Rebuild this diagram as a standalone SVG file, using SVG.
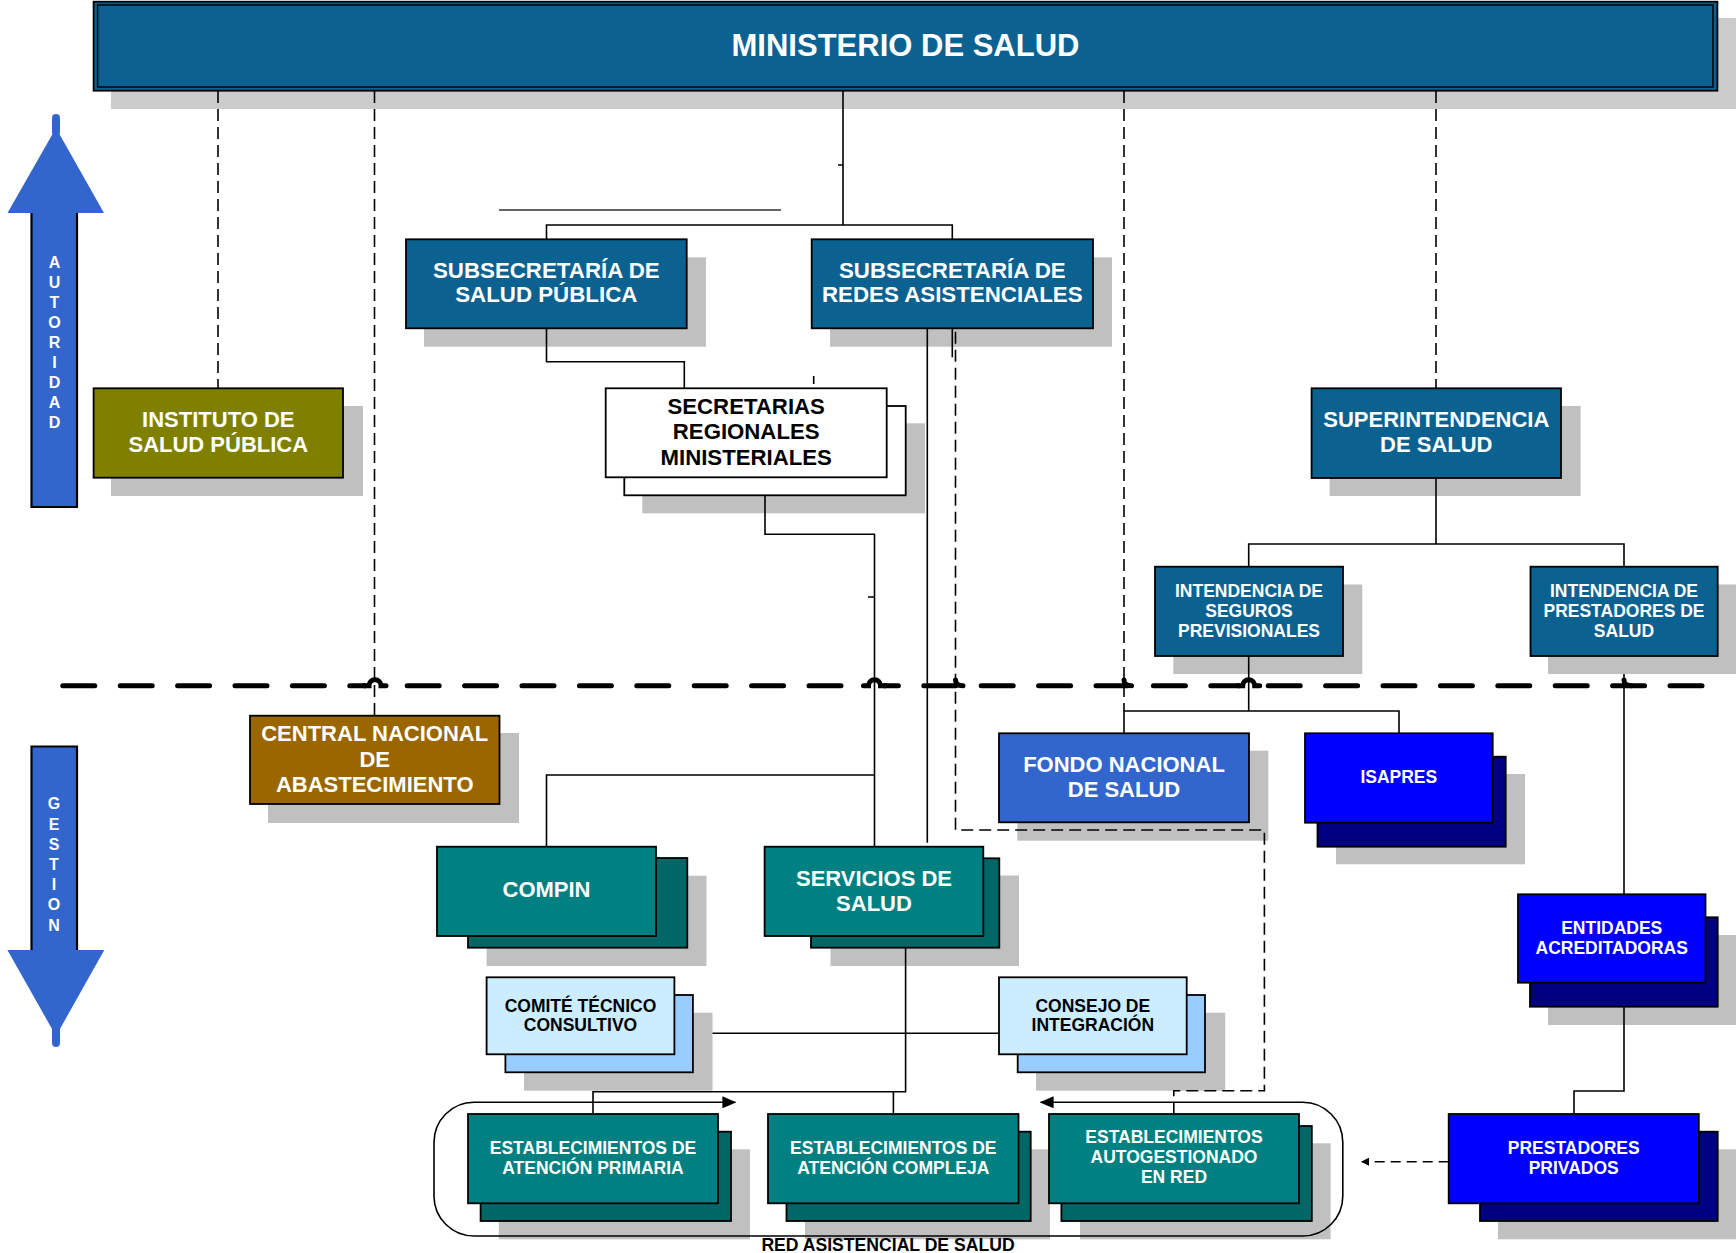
<svg xmlns="http://www.w3.org/2000/svg" width="1736" height="1253" viewBox="0 0 1736 1253">
<style>
text{font-family:"Liberation Sans",Arial,sans-serif;font-weight:bold;text-anchor:middle}
.w{fill:#FFFFFF}
.k{fill:#000000}
.t22{font-size:22px}
.t17{font-size:17.5px}
.bx{stroke:#000;stroke-width:1.8}
.sh{fill:#C0C0C0}
.steel{fill:#0B6291}
.teal{fill:#008080}
.dteal{fill:#006666}
.blue{fill:#0000FF}
.navy{fill:#000080}
.lb{fill:#CCECFF}
.lb2{fill:#99CCFF}
.ln{fill:none;stroke:#000;stroke-width:1.6}
.dl{fill:none;stroke:#000;stroke-width:1.6;stroke-dasharray:12 6}
.big{fill:none;stroke:#000;stroke-width:5;stroke-linecap:round}
.wo{fill:none;stroke:#FFF;stroke-width:8}
</style>
<defs>
<marker id="ah" viewBox="0 0 14 12" refX="13" refY="6" markerWidth="14" markerHeight="12" markerUnits="userSpaceOnUse" orient="auto-start-reverse">
<path d="M0,0 L14,6 L0,12 Z" fill="#000"/>
</marker>
<marker id="ahs" viewBox="0 0 8 8" refX="7" refY="4" markerWidth="8" markerHeight="8" markerUnits="userSpaceOnUse" orient="auto">
<path d="M0,0 L8,4 L0,8 Z" fill="#000"/>
</marker>
</defs>
<rect width="1736" height="1253" fill="#FFFFFF"/>

<g id="arrow-autoridad">
<path d="M56,118 L56,132" stroke="#3366CC" stroke-width="8" stroke-linecap="round"/>
<polygon points="56,128 104,213 7.5,213" fill="#3366CC"/>
<path d="M31.5,213 L31.5,507 L77,507 L77,213" fill="#3366CC" stroke="#000" stroke-width="2.2"/>
<g class="w" style="font-size:16px">
<text x="54.5" y="268.3">A</text><text x="54.5" y="288.3">U</text><text x="54.5" y="308.3">T</text><text x="54.5" y="328.3">O</text><text x="54.5" y="348.3">R</text><text x="54.5" y="368.3">I</text><text x="54.5" y="388.3">D</text><text x="54.5" y="408.3">A</text><text x="54.5" y="428.3">D</text>
</g>
</g>

<g id="arrow-gestion">
<path d="M31.5,950 L31.5,746.5 L77,746.5 L77,950" fill="#3366CC" stroke="#000" stroke-width="2.2"/>
<polygon points="7.4,950 104.3,950 56,1036" fill="#3366CC"/>
<path d="M56,1030 L56,1043" stroke="#3366CC" stroke-width="8" stroke-linecap="round"/>
<g class="w" style="font-size:16px">
<text x="54" y="809.3">G</text><text x="54" y="829.5">E</text><text x="54" y="849.7">S</text><text x="54" y="869.9">T</text><text x="54" y="890.1">I</text><text x="54" y="910.3">O</text><text x="54" y="930.5">N</text>
</g>
</g>

<g id="divider">
<path class="big" d="M62.8,685.7 H1715" stroke-dasharray="32 25.4"/>
<path class="wo" d="M366,685.7 H384 M865.5,685.7 H883.5 M1239.7,685.7 H1257.7"/>
<path class="big" d="M364,685.7 H369 A6,6 0 0 1 381,685.7 H386"/>
<path class="big" d="M863.5,685.7 H868.5 A6,6 0 0 1 880.5,685.7 H885.5"/>
<path class="big" d="M1237.7,685.7 H1242.7 A6,6 0 0 1 1254.7,685.7 H1259.7"/>
<path class="big" d="M955.5,680 Q955.5,685.7 963,685.7"/>
<path class="big" d="M1124,680 Q1124,685.7 1131.5,685.7"/>
<path class="big" d="M1624,680 Q1624,685.7 1631.5,685.7"/>
</g>

<g id="nodes">
<g id="n-ministerio">
<rect class="sh" x="111" y="18" width="1625" height="91" style="fill:#CCCCCC"/>
<rect class="steel bx" x="93.6" y="1.7" width="1623.8" height="89"/>
<rect x="97.6" y="5" width="1615.4" height="82" fill="none" stroke="#000" stroke-width="1.5"/>
<text class="w" style="font-size:31px" x="905.5" y="55.5">MINISTERIO DE SALUD</text>
</g>
<g id="n-subsec-sp">
<rect class="sh" x="424" y="257.3" width="282" height="89.4"/>
<rect class="steel bx" x="406" y="239.3" width="280.7" height="89"/>
<text class="w t22" x="546.3" style="font-size:22.3px"><tspan x="546.3" y="277.7">SUBSECRETARÍA DE</tspan><tspan x="546.3" y="302.3">SALUD PÚBLICA</tspan></text>
</g>
<g id="n-subsec-redes">
<rect class="sh" x="830" y="257.3" width="282" height="89.4"/>
<rect class="steel bx" x="811.7" y="239.3" width="281.3" height="89"/>
<text class="w t22" x="952.3" style="font-size:22.3px"><tspan x="952.3" y="277.7">SUBSECRETARÍA DE</tspan><tspan x="952.3" y="302.3">REDES ASISTENCIALES</tspan></text>
</g>
<g id="n-instituto">
<rect class="sh" x="111" y="406" width="252" height="90"/>
<rect class="bx" x="93.6" y="388.3" width="249.4" height="89.4" fill="#808000"/>
<text class="w t22"><tspan x="218.3" y="426.7">INSTITUTO DE</tspan><tspan x="218.3" y="451.7">SALUD PÚBLICA</tspan></text>
</g>
<g id="n-seremi">
<rect class="sh" x="642.3" y="423.3" width="282.7" height="90"/>
<rect class="bx" x="624.3" y="406" width="281.4" height="89.3" fill="#FFFFFF"/>
<rect class="bx" x="605.7" y="388.3" width="281" height="89" fill="#FFFFFF"/>
<text class="k" style="font-size:22.2px"><tspan x="746.2" y="413.5">SECRETARIAS</tspan><tspan x="746.2" y="439">REGIONALES</tspan><tspan x="746.2" y="464.5">MINISTERIALES</tspan></text>
</g>
<g id="n-super">
<rect class="sh" x="1329.6" y="406" width="251" height="90"/>
<rect class="steel bx" x="1311.6" y="388.3" width="249.4" height="89.7"/>
<text class="w t22"><tspan x="1436.3" y="426.7">SUPERINTENDENCIA</tspan><tspan x="1436.3" y="451.7">DE SALUD</tspan></text>
</g>
<g id="n-int-seg">
<rect class="sh" x="1173.3" y="584.5" width="189" height="89.5"/>
<rect class="steel bx" x="1155" y="566.7" width="188" height="89.3"/>
<text class="w t17"><tspan x="1249" y="596.7">INTENDENCIA DE</tspan><tspan x="1249" y="617">SEGUROS</tspan><tspan x="1249" y="637.3">PREVISIONALES</tspan></text>
</g>
<g id="n-int-prest">
<rect class="sh" x="1548" y="584.5" width="188" height="89.5"/>
<rect class="steel bx" x="1530.5" y="566.7" width="187.2" height="89.3"/>
<text class="w t17"><tspan x="1624" y="596.7">INTENDENCIA DE</tspan><tspan x="1624" y="617">PRESTADORES DE</tspan><tspan x="1624" y="637.3">SALUD</tspan></text>
</g>
<g id="n-central">
<rect class="sh" x="268" y="733" width="251" height="90"/>
<rect class="bx" x="250" y="715.7" width="249.5" height="88.3" fill="#996600"/>
<text class="w t22"><tspan x="374.7" y="741">CENTRAL NACIONAL</tspan><tspan x="374.7" y="766.7">DE</tspan><tspan x="374.7" y="792.3">ABASTECIMIENTO</tspan></text>
</g>
<g id="n-fonasa">
<rect class="sh" x="1017.3" y="750.7" width="251" height="90"/>
<rect class="bx" x="999" y="733.3" width="250" height="89" fill="#3366CC"/>
<text class="w t22"><tspan x="1124" y="772.3">FONDO NACIONAL</tspan><tspan x="1124" y="796.7">DE SALUD</tspan></text>
</g>
<g id="n-isapres">
<rect class="sh" x="1336" y="774" width="189" height="90.3"/>
<rect class="navy bx" x="1317.5" y="756.7" width="188.2" height="90"/>
<rect class="blue bx" x="1305" y="733.3" width="187.7" height="89.4"/>
<text class="w t17" x="1398.8" y="783.3">ISAPRES</text>
</g>
<g id="n-compin">
<rect class="sh" x="486.6" y="875.7" width="219.9" height="90.3"/>
<rect class="dteal bx" x="468" y="858" width="219.3" height="89.7"/>
<rect class="teal bx" x="437" y="846.7" width="219" height="89.3"/>
<text class="w t22" x="546.5" y="897.3">COMPIN</text>
</g>
<g id="n-servicios">
<rect class="sh" x="830.5" y="875.5" width="188.5" height="90.5"/>
<rect class="dteal bx" x="811" y="858.3" width="188.3" height="89.4"/>
<rect class="teal bx" x="764.6" y="846.7" width="218.7" height="89.3"/>
<text class="w t22"><tspan x="874" y="885.7">SERVICIOS DE</tspan><tspan x="874" y="910.7">SALUD</tspan></text>
</g>
<g id="n-entidades">
<rect class="sh" x="1548" y="935" width="188" height="90"/>
<rect class="navy bx" x="1530" y="917.3" width="187.7" height="89.4"/>
<rect class="blue bx" x="1518" y="894.3" width="187.5" height="88.4"/>
<text class="w t17"><tspan x="1611.7" y="934">ENTIDADES</tspan><tspan x="1611.7" y="954.3">ACREDITADORAS</tspan></text>
</g>
<g id="n-comite">
<rect class="sh" x="524" y="1012.7" width="188.5" height="78"/>
<rect class="lb2 bx" x="505.4" y="995" width="187.5" height="77.3"/>
<rect class="lb bx" x="486.6" y="977.3" width="187.8" height="77"/>
<text class="k t17"><tspan x="580.5" y="1011.7">COMITÉ TÉCNICO</tspan><tspan x="580.5" y="1031">CONSULTIVO</tspan></text>
</g>
<g id="n-consejo">
<rect class="sh" x="1036" y="1012.7" width="189.2" height="78"/>
<rect class="lb2 bx" x="1017.7" y="995" width="187.3" height="77.3"/>
<rect class="lb bx" x="999" y="977.3" width="187.7" height="77"/>
<text class="k t17"><tspan x="1092.8" y="1011.7">CONSEJO DE</tspan><tspan x="1092.8" y="1031">INTEGRACIÓN</tspan></text>
</g>
<g id="n-est-primaria">
<rect class="sh" x="498.8" y="1149.3" width="251.2" height="90"/>
<rect class="dteal bx" x="480.6" y="1131.7" width="250.4" height="89.3"/>
<rect class="teal bx" x="468" y="1114" width="250" height="89.3"/>
<text class="w t17"><tspan x="593" y="1154">ESTABLECIMIENTOS DE</tspan><tspan x="593" y="1174">ATENCIÓN PRIMARIA</tspan></text>
</g>
<g id="n-est-compleja">
<rect class="sh" x="805" y="1149.3" width="245" height="90"/>
<rect class="dteal bx" x="786.5" y="1131.7" width="244.2" height="89.3"/>
<rect class="teal bx" x="768" y="1114" width="250.5" height="89.3"/>
<text class="w t17"><tspan x="893.3" y="1154">ESTABLECIMIENTOS DE</tspan><tspan x="893.3" y="1174">ATENCIÓN COMPLEJA</tspan></text>
</g>
<g id="n-est-autogest">
<rect class="sh" x="1080" y="1143.3" width="250.6" height="96"/>
<rect class="dteal bx" x="1061.4" y="1126" width="250.4" height="95"/>
<rect class="teal bx" x="1049" y="1114" width="250" height="89.3"/>
<text class="w t17"><tspan x="1174" y="1143.3">ESTABLECIMIENTOS</tspan><tspan x="1174" y="1163.3">AUTOGESTIONADO</tspan><tspan x="1174" y="1183.3">EN RED</tspan></text>
</g>
<g id="n-prestadores">
<rect class="sh" x="1498" y="1149.3" width="238" height="90"/>
<rect class="navy bx" x="1480" y="1131.7" width="237.7" height="89.3"/>
<rect class="blue bx" x="1448.7" y="1114" width="250.1" height="89.3"/>
<text class="w t17"><tspan x="1573.7" y="1154">PRESTADORES</tspan><tspan x="1573.7" y="1174">PRIVADOS</tspan></text>
</g>
<g id="n-red">
<path class="ln" d="M735.4,1102.3 H474 A40,40 0 0 0 434,1142.3 V1196 A40,40 0 0 0 474,1236 H1302.8 A40,40 0 0 0 1342.8,1196 V1142.3 A40,40 0 0 0 1302.8,1102.3 H1040.6" marker-start="url(#ah)" marker-end="url(#ah)"/>
<text class="k" style="font-size:17.6px" x="888" y="1251">RED ASISTENCIAL DE SALUD</text>
</g>
</g>

<g id="connectors">
<path class="ln" d="M843,91 V225 M838,165 H843 M546.5,239.3 V225 H952.3 V239.3"/>
<path d="M499,210 H781" stroke="#666" stroke-width="2" fill="none"/>
<path class="ln" d="M546.5,328.3 V361.7 H684.3 V388.3"/>
<path class="ln" d="M813.7,376 V384"/>
<path class="ln" d="M765,495.3 V534.3 H874.5 V846.7 M868,597 H874.5"/>
<path class="ln" d="M546.5,846.7 V775 H874.5"/>
<path class="ln" d="M927.3,328.3 V842.7"/>
<path class="ln" d="M952.3,328.3 V357.3"/>
<path class="dl" d="M955.5,331.7 V830 H1264.4 V1090.7 H1173.8 V1114"/>
<path class="dl" d="M218,91 V388.3"/>
<path class="dl" d="M374.5,91 V715.7"/>
<path class="dl" d="M1124,91 V711"/>
<path class="ln" d="M1124,733.3 V711 H1399 V733.3"/>
<path class="ln" d="M1248.7,656 V711"/>
<path class="dl" d="M1436,91 V388.3"/>
<path class="ln" d="M1436,478 V544 M1248.7,566.7 V544 H1624 V566.7"/>
<path class="ln" d="M1624,674 V894.3"/>
<path class="ln" d="M1624,1006.7 V1091 H1574 V1114"/>
<path class="ln" d="M1448.7,1161.7 H1362" stroke-dasharray="10 6" marker-end="url(#ahs)"/>
<path class="ln" d="M712.5,1033.3 H999"/>
<path class="ln" d="M905.6,947.7 V1091.7 H593 V1114 M893.4,1091.7 V1114"/>
</g>
</svg>
